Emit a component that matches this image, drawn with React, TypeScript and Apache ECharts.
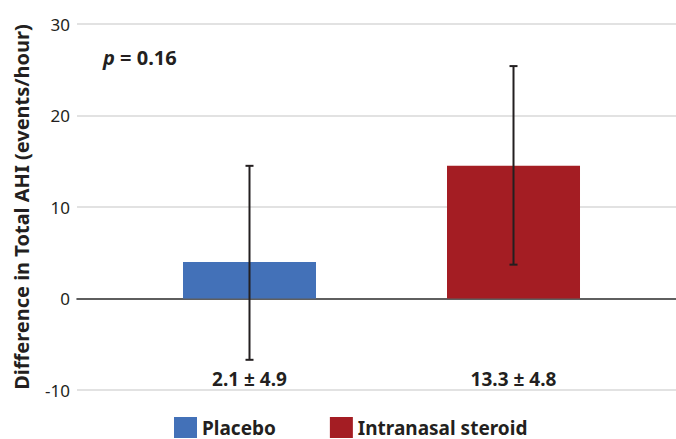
import React, { useEffect, useRef } from "react";
import * as echarts from "echarts";

const categories = ["Placebo", "Intranasal steroid"];
const xPositions = [1, 2];
const means = [4.0, 14.5];
const errLow = [-6.7, 3.7];
const errHigh = [14.5, 25.4];
const summaryLabels = ["2.1 ± 4.9", "13.3 ± 4.8"];
const summaryY = -8.75;
const colors = ["#4371b8", "#a41d23"];
const yMin = -10;
const yMax = 30;
const yInterval = 10;

const FONT = "Noto Sans";
const INK = "#231f20";

export default function App() {
  const ref = useRef<HTMLDivElement>(null);
  useEffect(() => {
    if (!ref.current) return;
    const chart = echarts.init(ref.current, null, { renderer: "svg" });
    const barSeries = categories.map((name, i) => ({
      type: "bar",
      name,
      data: [[xPositions[i], means[i]]],
      barWidth: 133,
      barGap: "-100%",
      itemStyle: { color: colors[i] },
      z: 2,
    }));
    const labelStyle = {
      show: true,
      position: "inside",
      fontFamily: FONT,
      fontWeight: "bold",
      fontSize: 19,
      color: INK,
      opacity: 1,
    };
    chart.setOption({
      animation: false,
      textStyle: { fontFamily: FONT },
      grid: { left: 77, right: 0, top: 24, bottom: 49 },
      legend: {
        data: categories,
        top: 417,
        left: 174,
        padding: 0,
        icon: "rect",
        itemWidth: 23,
        itemHeight: 21,
        itemGap: 54,
        textStyle: { fontFamily: FONT, fontWeight: "bold", fontSize: 19, color: INK },
      },
      xAxis: {
        type: "value",
        min: 0.3466,
        max: 2.6155,
        axisLine: { show: true, onZero: true, lineStyle: { color: "#333", width: 1.6 } },
        axisTick: { show: false },
        axisLabel: { show: false },
        splitLine: { show: false },
      },
      yAxis: {
        type: "value",
        min: yMin,
        max: yMax,
        interval: yInterval,
        name: "Difference in Total AHI (events/hour)",
        nameLocation: "middle",
        nameGap: 46,
        nameTextStyle: { fontFamily: FONT, fontWeight: "bold", fontSize: 20, color: INK },
        axisLine: { show: false },
        axisTick: { show: false },
        axisLabel: { fontFamily: FONT, fontSize: 17, color: INK, margin: 7 },
        splitLine: { lineStyle: { color: "#d9d9d9", width: 1.6 } },
      },
      series: [
        ...barSeries,
        {
          type: "custom",
          name: "error",
          z: 5,
          data: xPositions.map((x, i) => [x, errLow[i], errHigh[i]]),
          renderItem: (params: any, api: any) => {
            const x = api.value(0);
            const lo = api.coord([x, api.value(1)]);
            const hi = api.coord([x, api.value(2)]);
            const cap = 4;
            const style = { stroke: INK, lineWidth: 2 };
            return {
              type: "group",
              children: [
                { type: "line", shape: { x1: lo[0], y1: lo[1], x2: hi[0], y2: hi[1] }, style },
                { type: "line", shape: { x1: lo[0] - cap, y1: lo[1], x2: lo[0] + cap, y2: lo[1] }, style },
                { type: "line", shape: { x1: hi[0] - cap, y1: hi[1], x2: hi[0] + cap, y2: hi[1] }, style },
              ],
            };
          },
        },
        {
          type: "scatter",
          name: "summary",
          symbolSize: 1,
          itemStyle: { color: "rgba(0,0,0,0)" },
          data: xPositions.map((x, i) => ({
            value: [x, summaryY],
            label: { ...labelStyle, formatter: summaryLabels[i] },
          })),
          label: labelStyle,
          emphasis: { disabled: true },
          z: 6,
        },
      ],
      graphic: [
        {
          type: "text",
          left: 103,
          top: 47,
          style: {
            text: "{i|p} = 0.16",
            rich: {
              i: { fontFamily: FONT, fontStyle: "italic", fontWeight: "bold", fontSize: 20, fill: INK },
            },
            fontFamily: FONT,
            fontWeight: "bold",
            fontSize: 20,
            fill: INK,
          },
        },
      ],
    });
    return () => chart.dispose();
  }, []);
  return (
    <div
      ref={ref}
      style={{ position: "fixed", left: 0, top: 0, width: 676, height: 439, background: "#fff" }}
    />
  );
}
